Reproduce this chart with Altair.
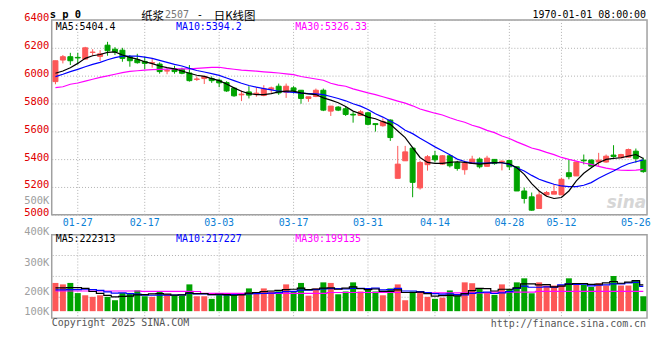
import altair as alt
import pandas as pd

# ---------------- data ----------------
DATES = ["01-22", "01-23", "01-24", "01-27",
         "02-05", "02-06", "02-07", "02-10", "02-11", "02-12", "02-13", "02-14",
         "02-17", "02-18", "02-19", "02-20", "02-21", "02-24", "02-25", "02-26", "02-27", "02-28",
         "03-03", "03-04", "03-05", "03-06", "03-07", "03-10", "03-11", "03-12", "03-13", "03-14",
         "03-17", "03-18", "03-19", "03-20", "03-21", "03-24", "03-25", "03-26", "03-27", "03-28",
         "03-31", "04-01", "04-02", "04-03", "04-07", "04-08", "04-09", "04-10", "04-11",
         "04-14", "04-15", "04-16", "04-17", "04-18", "04-21", "04-22", "04-23", "04-24", "04-25",
         "04-28", "04-29", "04-30", "05-06", "05-07", "05-08", "05-09",
         "05-12", "05-13", "05-14", "05-15", "05-16", "05-19", "05-20", "05-21", "05-22", "05-23",
         "05-26", "05-27"]

OPEN = [5957, 6112, 6136, 6131, 6119, 6167, 6138, 6219, 6190, 6183,
        6136, 6114, 6102, 6090, 6083, 6033, 6048, 6045, 6019, 5973,
        5979, 5979, 5967, 5950, 5910, 5862, 5883, 5864, 5857, 5902,
        5924, 5881, 5912, 5895, 5836, 5850, 5895, 5745, 5774, 5762,
        5722, 5714, 5733, 5655, 5640, 5681, 5262, 5388, 5479, 5193,
        5360, 5424, 5364, 5424, 5376, 5324, 5369, 5400, 5348, 5398,
        5381, 5390, 5345, 5171, 5129, 5045, 5143, 5148, 5143, 5302,
        5279, 5393, 5393, 5379, 5379, 5429, 5410, 5414, 5457, 5393]
HIGH = [6107, 6148, 6164, 6164, 6207, 6190, 6183, 6243, 6205, 6200,
        6148, 6157, 6136, 6124, 6095, 6052, 6071, 6057, 6076, 5995,
        5998, 5995, 5979, 5960, 5917, 5893, 5924, 5917, 5931, 5921,
        5943, 5943, 5924, 5895, 5848, 5907, 5907, 5781, 5781, 5781,
        5740, 5752, 5740, 5655, 5693, 5686, 5495, 5495, 5488, 5388,
        5429, 5460, 5429, 5429, 5388, 5388, 5424, 5412, 5424, 5400,
        5390, 5395, 5350, 5195, 5160, 5171, 5171, 5219, 5267, 5398,
        5381, 5433, 5398, 5445, 5433, 5500, 5438, 5476, 5476, 5410]
LOW = [5938, 6088, 6076, 6081, 6114, 6143, 6105, 6143, 6148, 6100,
       6064, 6086, 6045, 6057, 6014, 6010, 6014, 6010, 5957, 5962,
       5940, 5948, 5917, 5883, 5848, 5817, 5836, 5848, 5852, 5876,
       5862, 5840, 5871, 5798, 5812, 5845, 5745, 5710, 5745, 5710,
       5662, 5714, 5643, 5598, 5633, 5531, 5262, 5388, 5126, 5181,
       5317, 5376, 5360, 5340, 5317, 5288, 5369, 5333, 5348, 5360,
       5319, 5321, 5171, 5081, 5029, 5045, 5136, 5148, 5143, 5255,
       5279, 5362, 5345, 5350, 5374, 5410, 5405, 5414, 5374, 5302]
CLOSE = [6107, 6136, 6107, 6127, 6200, 6169, 6157, 6179, 6171, 6124,
         6107, 6093, 6088, 6093, 6029, 6036, 6029, 6017, 5964, 5976,
         5995, 5964, 5948, 5890, 5855, 5867, 5860, 5874, 5905, 5912,
         5876, 5924, 5893, 5836, 5848, 5895, 5752, 5781, 5752, 5721,
         5717, 5740, 5650, 5648, 5669, 5555, 5364, 5452, 5233, 5376,
         5417, 5395, 5424, 5352, 5333, 5369, 5400, 5345, 5407, 5368,
         5385, 5345, 5171, 5117, 5033, 5143, 5160, 5167, 5255, 5274,
         5379, 5388, 5350, 5393, 5421, 5419, 5433, 5469, 5405, 5310]
VOLUME = [229000, 224000, 229000, 191000, 180000, 172000, 180000, 172000, 155000, 191000,
          192000, 203000, 175000, 172000, 197000, 185000, 178000, 178000, 224000, 175000,
          175000, 162000, 188000, 188000, 188000, 188000, 210000, 195000, 210000, 200000,
          200000, 224000, 200000, 229000, 178000, 210000, 231000, 229000, 185000, 199000,
          231000, 199000, 210000, 199000, 180000, 210000, 224000, 155000, 199000, 191000,
          172000, 162000, 168000, 203000, 178000, 231000, 228000, 210000, 195000, 182000,
          224000, 208000, 231000, 245000, 190000, 231000, 220000, 220000, 222000, 245000,
          224000, 224000, 215000, 228000, 220000, 253000, 220000, 220000, 238000, 175000]
MA5 = [6017, 6033, 6057, 6088, 6124, 6143, 6152, 6167, 6171, 6148,
       6131, 6119, 6100, 6086, 6069, 6057, 6048, 6033, 6017, 6003,
       5995, 5979, 5964, 5940, 5912, 5888, 5871, 5864, 5864, 5871,
       5883, 5888, 5888, 5876, 5869, 5864, 5840, 5824, 5805, 5778,
       5745, 5726, 5702, 5690, 5669, 5650, 5602, 5555, 5483, 5412,
       5376, 5369, 5369, 5376, 5381, 5376, 5369, 5364, 5369, 5375,
       5374, 5367, 5338, 5290, 5224, 5171, 5133, 5117, 5124, 5171,
       5243, 5298, 5338, 5374, 5398, 5405, 5410, 5421, 5433, 5404.4]
MA10 = [5993, 6010, 6029, 6045, 6064, 6081, 6095, 6114, 6129, 6140,
        6140, 6140, 6133, 6124, 6110, 6095, 6081, 6069, 6052, 6037,
        6026, 6014, 6002, 5983, 5964, 5945, 5929, 5917, 5907, 5898,
        5888, 5883, 5879, 5874, 5871, 5869, 5864, 5850, 5836, 5819,
        5798, 5781, 5757, 5726, 5702, 5674, 5645, 5607, 5583, 5550,
        5519, 5488, 5460, 5431, 5400, 5383, 5371, 5371, 5371, 5375,
        5374, 5362, 5338, 5314, 5283, 5255, 5236, 5219, 5207, 5202,
        5202, 5212, 5231, 5262, 5290, 5314, 5343, 5367, 5381, 5394.2]
MA30 = [5914, 5920, 5938, 5947, 5960, 5974, 5988, 5998, 6010, 6022,
        6030, 6035, 6040, 6043, 6045, 6047, 6048, 6048, 6048, 6052,
        6056, 6059, 6060, 6052, 6046, 6040, 6036, 6032, 6027, 6023,
        6019, 6013, 6007, 5994, 5985, 5976, 5967, 5945, 5932, 5924,
        5905, 5890, 5876, 5864, 5848, 5833, 5817, 5802, 5783, 5760,
        5745, 5730, 5717, 5697, 5679, 5665, 5643, 5628, 5607, 5590,
        5566, 5548, 5524, 5502, 5480, 5466, 5448, 5432, 5412, 5398,
        5386, 5372, 5362, 5348, 5335, 5326, 5320, 5319, 5321, 5326.33]
VMA5 = [212000, 212000, 213000, 213000, 210000, 199000, 190000, 179000, 172000, 174000,
        176000, 182000, 183000, 187000, 188000, 186000, 181000, 182000, 192000, 188000,
        188000, 183000, 185000, 183000, 180000, 182000, 191000, 194000, 198000, 201000,
        203000, 206000, 207000, 211000, 206000, 208000, 211000, 212000, 207000, 211000,
        215000, 209000, 206000, 208000, 200000, 200000, 205000, 194000, 194000, 196000,
        188000, 176000, 178000, 179000, 177000, 188000, 202000, 210000, 209000, 201000,
        207000, 207000, 212000, 226000, 226000, 222000, 223000, 215000, 218000, 225000,
        227000, 227000, 224000, 225000, 229000, 234000, 228000, 232000, 237000, 222313]
VMA10 = [205000, 205000, 206000, 206000, 207000, 206000, 203000, 197000, 191000, 192000,
         188000, 186000, 181000, 180000, 181000, 180000, 181000, 182000, 189000, 187000,
         187000, 183000, 183000, 182000, 184000, 184000, 187000, 188000, 189000, 191000,
         193000, 198000, 200000, 204000, 204000, 206000, 208000, 209000, 209000, 208000,
         210000, 210000, 209000, 211000, 205000, 206000, 210000, 201000, 201000, 198000,
         194000, 188000, 186000, 187000, 183000, 182000, 190000, 194000, 196000, 189000,
         192000, 198000, 210000, 218000, 214000, 214000, 215000, 214000, 222000, 226000,
         224000, 225000, 219000, 221000, 222000, 226000, 226000, 229000, 231000, 217227]
VMA30 = [201000, 201000, 201000, 201000, 201000, 201000, 201000, 201000, 201000, 201000,
         201000, 201000, 200000, 200000, 200000, 200000, 200000, 200000, 200000, 199000,
         190000, 190000, 190000, 190000, 190000, 190000, 190000, 190000, 190000, 190000,
         190000, 190000, 190000, 190000, 190000, 190000, 190000, 194000, 194000, 194000,
         194000, 194000, 194000, 194000, 194000, 194000, 194000, 194000, 194000, 194000,
         194000, 192000, 192000, 192000, 192000, 192000, 192000, 192000, 192000, 196000,
         196000, 196000, 196000, 196000, 196000, 200000, 200000, 200000, 200000, 200000,
         200000, 200000, 200000, 200000, 200000, 200000, 200000, 200000, 200000, 199135]

X_TICKS = ["01-27", "02-17", "03-03", "03-17", "03-31", "04-14", "04-28", "05-12", "05-26"]
X_GRID = ["01-27", "02-17", "03-03", "03-17", "03-31", "04-14", "04-28", "05-12"]
PRICE_TICKS = [5000, 5200, 5400, 5600, 5800, 6000, 6200, 6400]
VOL_TICKS = [100000, 200000, 300000, 400000, 500000]
VOL_GRID = [1, 2, 3]

# ---------------- styling ----------------
RED = "#fd5757"
GREEN = "#00a300"
MONO = "DejaVu Sans Mono"
CJK = "Noto Sans CJK SC"
GRID = "#b0b0b0"
W = 599

df = pd.DataFrame({"d": DATES, "open": OPEN, "high": HIGH, "low": LOW, "close": CLOSE,
                   "vol": VOLUME, "ma5": MA5, "ma10": MA10, "ma30": MA30,
                   "vma5": VMA5, "vma10": VMA10, "vma30": VMA30})
df["dir"] = ["up" if c >= o else "down" for o, c in zip(OPEN, CLOSE)]

x_scale = alt.Scale(type="band", domain=DATES, paddingInner=0, paddingOuter=0)
x_axis = alt.Axis(values=X_TICKS, labelColor="#0b7fd6", labelFont=MONO, labelFontSize=10,
                  labelAngle=0, labelPadding=3, ticks=False, tickSize=0, domain=False,
                  grid=False, title=None)
X = alt.X("d:N", scale=x_scale, axis=x_axis, title=None)
Xv = alt.X("d:N", scale=x_scale, axis=None, title=None)

p_scale = alt.Scale(domain=[5000, 6400], nice=False, zero=False)
p_axis = alt.Axis(values=PRICE_TICKS, format="d", labelColor="#e00000", labelFont=MONO,
                  labelFontSize=10.5, labelPadding=3, labelOffset=-2, ticks=False, tickSize=0,
                  domain=False, grid=True, gridColor=GRID, gridDash=[1, 2], title=None)


def PY(field):
    return alt.Y(field, scale=p_scale, axis=p_axis, title=None)


col_scale = alt.Scale(domain=["up", "down"], range=[RED, GREEN])
COLOR = alt.Color("dir:N", scale=col_scale, legend=None)
STROKE = alt.Stroke("dir:N", scale=col_scale, legend=None)


def label(text, x, y, color="black", size=10, font=MONO, align="left", baseline="middle",
          weight="normal", italic=False):
    return alt.Chart(pd.DataFrame({"t": [text]})).mark_text(
        align=align, baseline=baseline, font=font, fontSize=size, color=color,
        fontWeight=weight, fontStyle="italic" if italic else "normal"
    ).encode(x=alt.value(x), y=alt.value(y), text="t:N")


# ---------------- price panel ----------------
vgrid = alt.Chart(pd.DataFrame({"d": X_GRID})).mark_rule(
    color=GRID, strokeDash=[1, 2], strokeWidth=1).encode(x=X)
wick = alt.Chart(df).mark_rule(strokeWidth=1).encode(x=X, y=PY("low:Q"), y2="high:Q", color=COLOR)
body = alt.Chart(df).mark_bar(size=5, strokeWidth=1).encode(
    x=X, y=PY("open:Q"), y2="close:Q", color=COLOR, stroke=STROKE)
l5 = alt.Chart(df).mark_line(color="#000000", strokeWidth=1.2).encode(x=X, y=PY("ma5:Q"))
l10 = alt.Chart(df).mark_line(color="#0000ff", strokeWidth=1.2).encode(x=X, y=PY("ma10:Q"))
l30 = alt.Chart(df).mark_line(color="#ff00ff", strokeWidth=1.2).encode(x=X, y=PY("ma30:Q"))

top = alt.layer(
    vgrid, wick, body, l30, l10, l5,
    label("sina", 598, 184, color="#d6d6d6", size=17, font="DejaVu Sans", align="right",
          weight="bold", italic=True),
    label("MA5:5404.4", 4, 7),
    label("MA10:5394.2", 125, 7, color="#0000ff"),
    label("MA30:5326.33", 245, 7, color="#ff00ff"),
    label("s p 0", -2, -10, size=10.5, weight="bold", baseline="top"),
    label("纸浆", 90, -9, size=11.5, font=CJK, baseline="top"),
    label("2507", 114, -10, color="#777777", size=10, baseline="top"),
    label("-", 146, -10, size=10.5, baseline="top"),
    label("日K线图", 163, -9, size=11.5, font=CJK, baseline="top"),
    label("1970-01-01 08:00:00", W - 1, -10, size=10, align="right", baseline="top"),
).properties(width=W, height=196)

# ---------------- volume panel ----------------
v_scale = alt.Scale(domain=VOL_TICKS, range=[77, 57, 28, -3, -34], nice=False, zero=False)
v_axis = alt.Axis(values=VOL_TICKS, labelExpr="datum.value / 1000 + 'K'", orient="left",
                  labelColor="#a0a0a0", labelFont=MONO, labelFontSize=10.5, labelPadding=3,
                  ticks=False, tickSize=0, domain=False, grid=False, title=None)


def VY(field):
    return alt.Y(field, scale=v_scale, axis=v_axis, title=None)


vgrid2 = alt.Chart(pd.DataFrame({"d": X_GRID})).mark_rule(
    color=GRID, strokeDash=[1, 2], strokeWidth=1).encode(x=Xv)
hgrid2 = alt.Chart(pd.DataFrame({"q": VOL_GRID})).mark_rule(
    color=GRID, strokeDash=[1, 2], strokeWidth=1).encode(
    y=alt.Y("q:Q", scale=alt.Scale(domain=[0, 4], nice=False), axis=None))
bars = alt.Chart(df).mark_bar(size=6).encode(x=Xv, y=VY("vol:Q"), y2=alt.datum(100000), color=COLOR)
vl5 = alt.Chart(df).mark_line(color="#000000", strokeWidth=1.2, interpolate="step").encode(x=Xv, y=VY("vma5:Q"))
vl10 = alt.Chart(df).mark_line(color="#0000ff", strokeWidth=1.2, interpolate="step").encode(x=Xv, y=VY("vma10:Q"))
vl30 = alt.Chart(df).mark_line(color="#ff00ff", strokeWidth=1.2, interpolate="step").encode(x=Xv, y=VY("vma30:Q"))

vol = alt.layer(
    hgrid2,
    alt.layer(vgrid2, bars, vl30, vl10, vl5),
    label("MA5:222313", 4, 4.5),
    label("MA10:217227", 125, 4.5, color="#0000ff"),
    label("MA30:199135", 245, 4.5, color="#ff00ff"),
    label("Copyright 2025 SINA.COM", 0, 89, color="#555555"),
    label("http://finance.sina.com.cn", W - 1, 89.5, color="#555555", align="right"),
).resolve_scale(y="independent").properties(width=W, height=84)

chart = alt.vconcat(top, vol, spacing=20, bounds="flush").properties(
    padding={"left": 14, "top": 0, "right": 0, "bottom": 0}
).configure_view(stroke="#a0a0a0", strokeWidth=1.5)

chart.save("out.html", embed_options={"renderer": "svg", "actions": False})
